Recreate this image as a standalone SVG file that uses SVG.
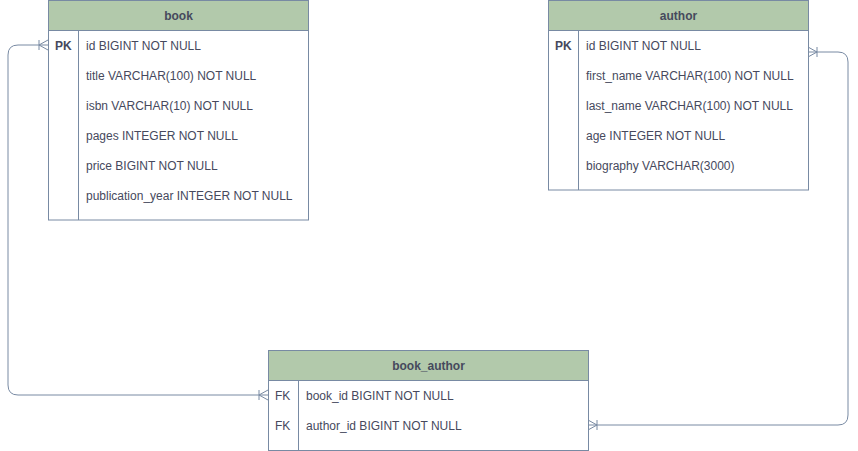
<svg xmlns="http://www.w3.org/2000/svg" width="858" height="451" viewBox="0 0 858 451">
<style>
.box{fill:#ffffff;stroke:#788AA3;stroke-width:1}
.hdr{fill:#B2C9AB;stroke:#788AA3;stroke-width:1}
.ln{stroke:#788AA3;stroke-width:1;fill:none}
.t{font-family:"Liberation Sans",Arial,sans-serif;font-size:12px;fill:#46495D}
.h{font-family:"Liberation Sans",Arial,sans-serif;font-size:12px;font-weight:bold;fill:#46495D;text-anchor:middle}
.b{font-weight:bold}
</style>
<rect width="858" height="451" fill="#ffffff"/>
<g id="connectors">
  <path class="ln" d="M268,395 H18 Q8,395 8,385 V55 Q8,45 18,45 H48"/>
  <path class="ln" d="M39,40 V50 M39,45 L48,40 M39,45 L48,50"/>
  <path class="ln" d="M259,390 V400 M259,395 L268,390 M259,395 L268,400"/>
  <path class="ln" d="M588,425 H838 Q848,425 848,415 V62 Q848,52 838,52 H808"/>
  <path class="ln" d="M597,420 V430 M597,425 L588,420 M597,425 L588,430"/>
  <path class="ln" d="M817,47 V57 M817,52 L808,47 M817,52 L808,57"/>
</g>
<g id="book">
  <rect class="box" x="48.5" y="0.5" width="260" height="219.5"/>
  <rect class="hdr" x="48.5" y="0.5" width="260" height="30"/>
  <line class="ln" x1="78.5" y1="30.5" x2="78.5" y2="220"/>
  <text class="h" x="178.5" y="20">book</text>
  <text class="t b" x="55" y="50">PK</text>
  <text class="t" x="86" y="50">id BIGINT NOT NULL</text>
  <text class="t" x="86" y="80">title VARCHAR(100) NOT NULL</text>
  <text class="t" x="86" y="110">isbn VARCHAR(10) NOT NULL</text>
  <text class="t" x="86" y="140">pages INTEGER NOT NULL</text>
  <text class="t" x="86" y="170">price BIGINT NOT NULL</text>
  <text class="t" x="86" y="200">publication_year INTEGER NOT NULL</text>
</g>
<g id="author">
  <rect class="box" x="548.5" y="0.5" width="260" height="189.5"/>
  <rect class="hdr" x="548.5" y="0.5" width="260" height="30"/>
  <line class="ln" x1="578.5" y1="30.5" x2="578.5" y2="190"/>
  <text class="h" x="678.5" y="20">author</text>
  <text class="t b" x="555" y="50">PK</text>
  <text class="t" x="586" y="50">id BIGINT NOT NULL</text>
  <text class="t" x="586" y="80">first_name VARCHAR(100) NOT NULL</text>
  <text class="t" x="586" y="110">last_name VARCHAR(100) NOT NULL</text>
  <text class="t" x="586" y="140">age INTEGER NOT NULL</text>
  <text class="t" x="586" y="170">biography VARCHAR(3000)</text>
</g>
<g id="book_author">
  <rect class="box" x="268.5" y="350.5" width="320" height="100"/>
  <rect class="hdr" x="268.5" y="350.5" width="320" height="30"/>
  <line class="ln" x1="298.5" y1="380.5" x2="298.5" y2="450.5"/>
  <text class="h" x="428.5" y="370">book_author</text>
  <text class="t" x="275" y="400">FK</text>
  <text class="t" x="306" y="400">book_id BIGINT NOT NULL</text>
  <text class="t" x="275" y="430">FK</text>
  <text class="t" x="306" y="430">author_id BIGINT NOT NULL</text>
</g>
</svg>
